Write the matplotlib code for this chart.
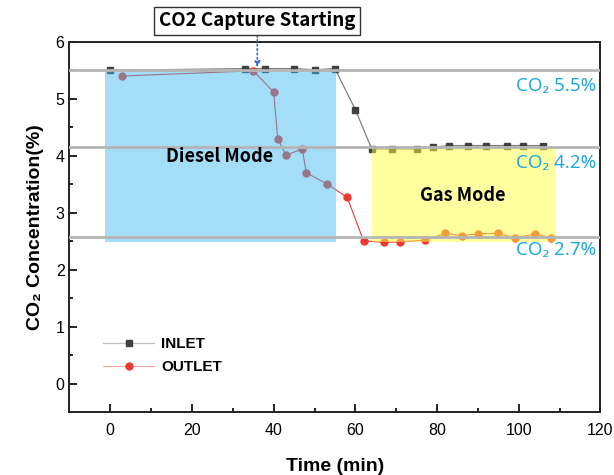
import matplotlib
matplotlib.use('Agg')
import matplotlib.pyplot as plt
from matplotlib.patches import Rectangle

# INLET / OUTLET CO2 농도 데이터
inlet_t = [0, 33, 38, 45, 50, 55, 60, 64, 69, 75, 79, 83, 87.5, 92, 97, 101, 106]
inlet_c = [5.50, 5.53, 5.53, 5.53, 5.51, 5.53, 4.81, 4.12, 4.12, 4.12, 4.15, 4.18,
           4.18, 4.18, 4.18, 4.18, 4.18]
outlet_t = [3, 35, 40, 41, 43, 47, 48, 53, 58, 62, 67, 71, 77, 82, 86, 90, 95, 99, 104, 108]
outlet_c = [5.40, 5.49, 5.12, 4.30, 4.01, 4.12, 3.70, 3.51, 3.27, 2.51, 2.48, 2.49,
            2.52, 2.64, 2.60, 2.63, 2.64, 2.56, 2.63, 2.56]

ref_levels = [5.50, 4.15, 2.58]
ref_labels = ['CO₂ 5.5%', 'CO₂ 4.2%', 'CO₂ 2.7%']

plt.rcParams['font.family'] = ['Liberation Sans', 'DejaVu Sans']
kfont = ['Noto Sans CJK KR', 'DejaVu Sans']

fig = plt.figure(figsize=(6.14, 4.75), dpi=100)
ax = fig.add_axes([0.113, 0.132, 0.865, 0.780])

ax.plot(inlet_t, inlet_c, color='#808080', lw=0.9, marker='s', ms=4.5,
        mfc='#404040', mec='#404040', label='INLET', zorder=2)
ax.plot(outlet_t, outlet_c, color='#e83a32', lw=0.8, marker='o', ms=5,
        mfc='#e83a32', mec='#e83a32', label='OUTLET', zorder=2)

# 모드 영역 (반투명)
ax.add_patch(Rectangle((-1.2, 2.49), 56.4, 5.50 - 2.49, facecolor='#3fb8ee',
                       alpha=0.47, lw=0, zorder=3))
ax.add_patch(Rectangle((64, 2.48), 45, 4.15 - 2.48, facecolor='#ffff40',
                       alpha=0.5, lw=0, zorder=3))

for lv in ref_levels:
    ax.axhline(lv, color='#b4b4b4', lw=2, zorder=4)

for lv, lab, dy in zip(ref_levels, ref_labels, [-0.27, -0.27, -0.23]):
    ax.text(119, lv + dy, lab, color='#1fa8e0', fontsize=13.5, ha='right',
            va='center', family=['Noto Sans', 'DejaVu Sans'], zorder=5)

ax.text(26.8, 3.98, 'Diesel Mode', fontsize=13, fontweight='bold', ha='center',
        va='center', family=kfont, zorder=5)
ax.text(86.4, 3.30, 'Gas Mode', fontsize=13, fontweight='bold', ha='center',
        va='center', family=kfont, zorder=5)

ax.annotate('CO2 Capture Starting', xy=(36, 5.55), xytext=(36, 6.37),
            ha='center', va='center', fontsize=13.5, fontweight='bold',
            family=kfont, annotation_clip=False,
            bbox=dict(boxstyle='square,pad=0.25', fc='white', ec='#333333', lw=1),
            arrowprops=dict(arrowstyle='-|>', color='#3a6fd0', ls=':', lw=1.2,
                            mutation_scale=8, shrinkA=0, shrinkB=0), zorder=6)

ax.set_xlim(-10, 120)
ax.set_ylim(-0.5, 6)
ax.set_xticks([0, 20, 40, 60, 80, 100, 120])
ax.set_xticks(range(10, 120, 20), minor=True)
ax.set_yticks(range(0, 7))
ax.set_yticks([0.5, 1.5, 2.5, 3.5, 4.5, 5.5], minor=True)
ax.tick_params(which='both', direction='in', labelsize=11.5, width=1.2)
ax.tick_params(which='major', length=6)
ax.tick_params(which='minor', length=3)
ax.tick_params(axis='x', pad=8)
for sp in ax.spines.values():
    sp.set_linewidth(1.4)
    sp.set_color('#222222')

ax.set_xlabel('Time (min)', fontsize=14, fontweight='bold', labelpad=14)
ax.set_ylabel('CO₂ Concentration(%)', fontsize=14, fontweight='bold', labelpad=8)

leg = ax.legend(loc='lower left', bbox_to_anchor=(0.038, 0.065), frameon=False,
                prop={'weight': 'bold', 'size': 11}, handlelength=3.3,
                handletextpad=0.5, labelspacing=0.6)
# 범례 선은 연하게, 마커는 진하게
for h, c in zip(leg.get_lines(), ['#c0c0c0', '#f4a4a0']):
    h.set_color(c)

fig.savefig('out.png', dpi=100)
